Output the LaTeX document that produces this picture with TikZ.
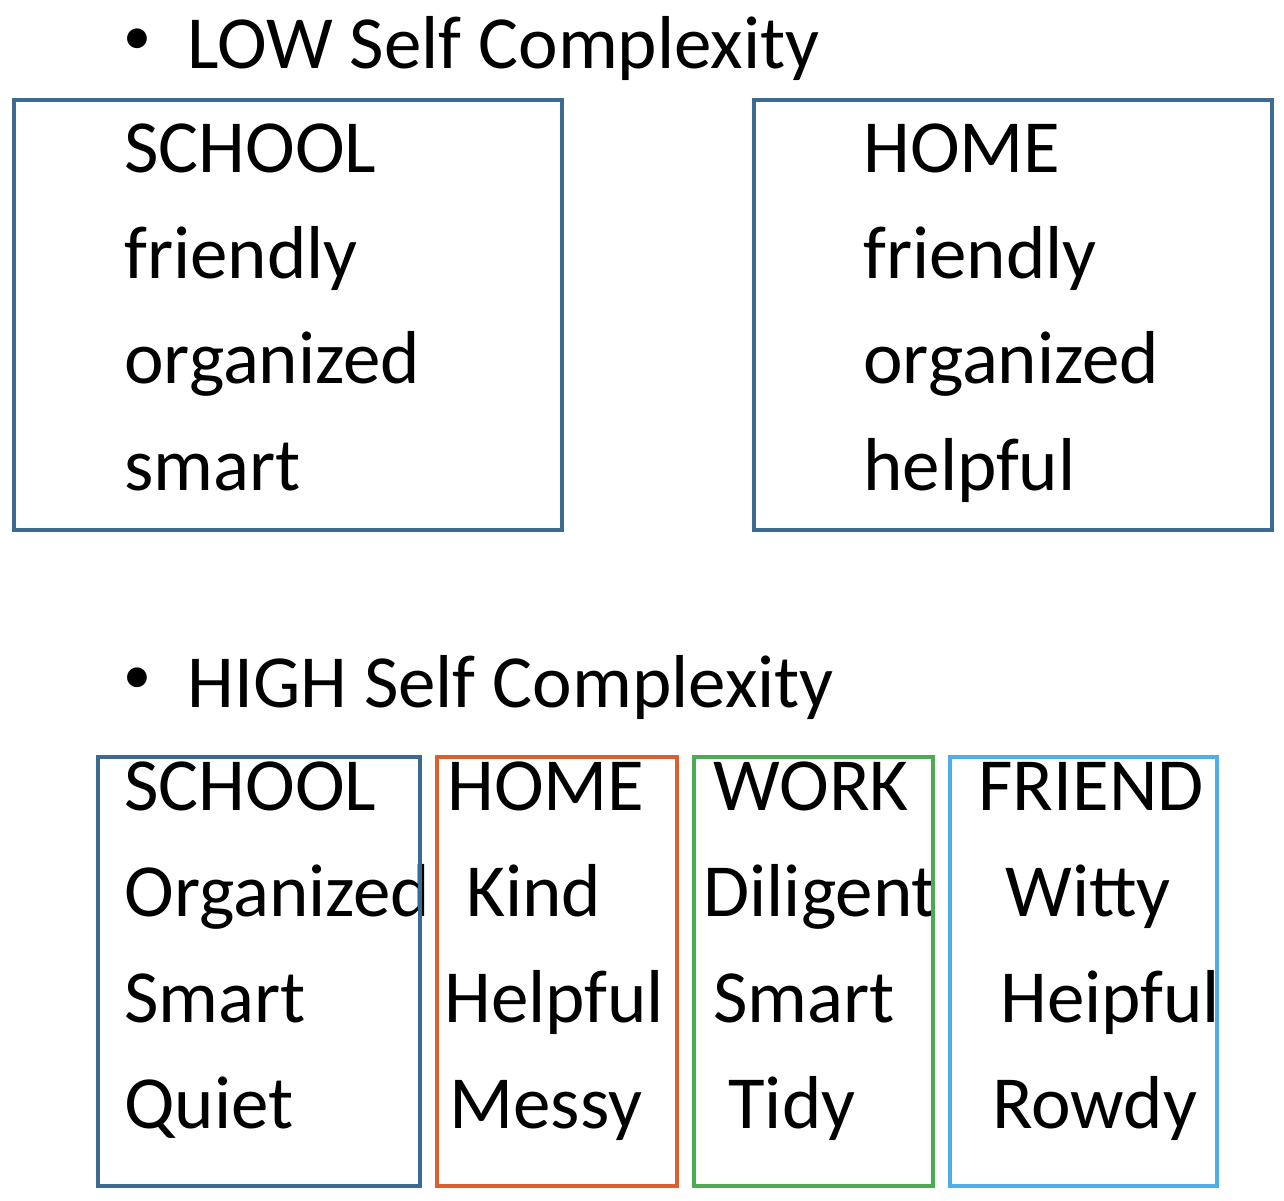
\documentclass[tikz,border=0pt]{standalone}
\usepackage{fontspec}
\setmainfont{Carlito}
\definecolor{bxblue}{HTML}{3C6A91}
\definecolor{bxorange}{HTML}{D95F2E}
\definecolor{bxgreen}{HTML}{4EAA50}
\definecolor{bxlight}{HTML}{4DAEE8}
\tikzset{
  txt/.style={anchor=base west,inner sep=0pt,font=\fontsize{37.5pt}{40pt}\selectfont},
  bul/.style={anchor=base west,inner sep=0pt,font=\fontsize{28pt}{30pt}\selectfont},
  frame/.style={draw=#1,line width=2.4pt},
}
\begin{document}
\begin{tikzpicture}[x=0.5pt,y=-0.5pt]
\useasboundingbox (0,0) rectangle (1284,1200);
% headings
\node[bul] (b1) at (123,54) {•};
\node[txt] (h1) at (187,68) {LOW Self Complexity};
\node[bul] (b2) at (123,693) {•};
\node[txt] (h2) at (187,707) {HIGH Self Complexity};
% low: school
\node[txt] (ls0) at (124,172) {SCHOOL};
\node[txt] (ls1) at (124,278) {friendly};
\node[txt] (ls2) at (124,383) {organized};
\node[txt] (ls3) at (124,490) {smart};
% low: home
\node[txt] (lh0) at (863,172) {HOME};
\node[txt] (lh1) at (863,278) {friendly};
\node[txt] (lh2) at (863,383) {organized};
\node[txt] (lh3) at (863,490) {helpful};
% high: school
\node[txt] (s0) at (124,810) {SCHOOL};
\node[txt] (s1) at (124,916) {Organized};
\node[txt] (s2) at (124,1022) {Smart};
\node[txt] (s3) at (124,1128) {Quiet};
% high: home
\node[txt] (m0) at (447,810) {HOME};
\node[txt] (m1) at (466,916) {Kind};
\node[txt] (m2) at (444,1022) {Helpful};
\node[txt] (m3) at (449,1128) {Messy};
% high: work
\node[txt] (w0) at (713,810) {WORK};
\node[txt] (w1) at (703,916) {Diligent};
\node[txt] (w2) at (713,1022) {Smart};
\node[txt] (w3) at (728,1128) {Tidy};
% high: friend
\node[txt] (f0) at (978,810) {FRIEND};
\node[txt] (f1) at (1005,916) {Witty};
\node[txt] (f2) at (1000,1022) {Heipful};
\node[txt] (f3) at (992,1128) {Rowdy};
% frames
\draw[frame=bxblue] (14,100) rectangle (562,530);
\draw[frame=bxblue] (754,100) rectangle (1272,530);
\draw[frame=bxblue] (98,757) rectangle (420,1186);
\draw[frame=bxorange] (437,757) rectangle (677,1186);
\draw[frame=bxgreen] (694,757) rectangle (933,1186);
\draw[frame=bxlight] (950,757) rectangle (1217,1186);
\end{tikzpicture}
\end{document}
